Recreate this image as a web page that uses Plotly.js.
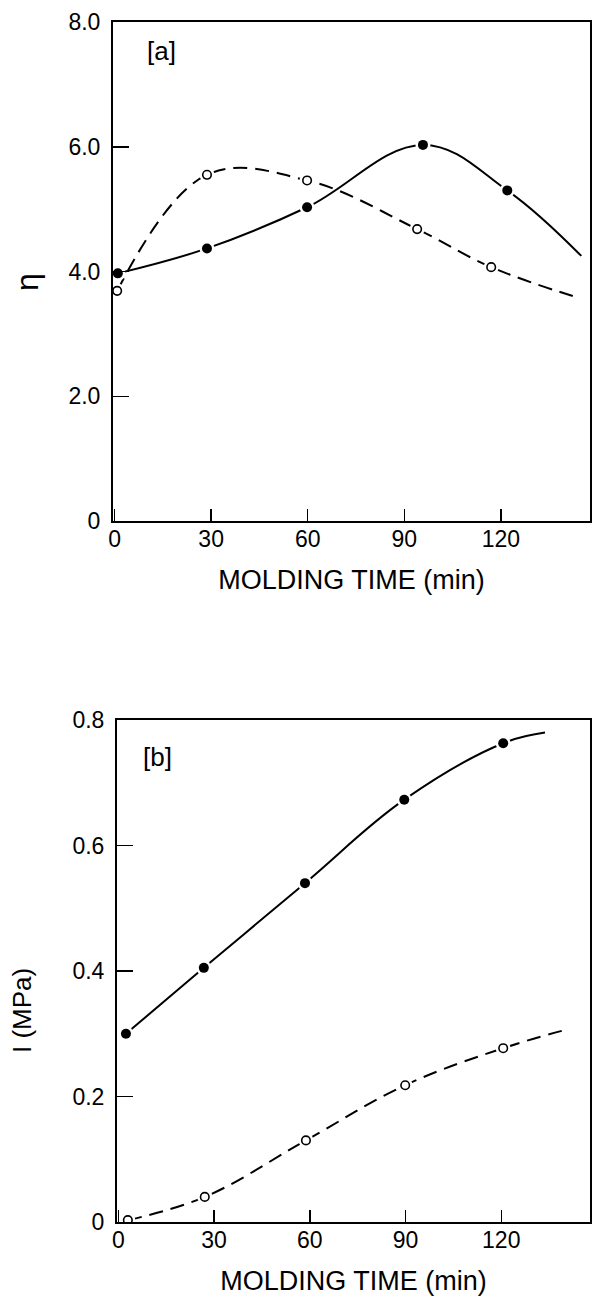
<!DOCTYPE html>
<html><head><meta charset="utf-8">
<script src="https://cdn.plot.ly/plotly-3.0.1.min.js"></script>
<style>html,body{margin:0;padding:0;background:#fff}</style>
</head><body><div id="chart" style="width:592px;height:1300px"></div>
<script>
// ---- data ----
const timeTicks = [0, 30, 60, 90, 120];
const etaTickVals = [0, 2, 4, 6, 8];
const etaTickText = ['0', '2.0', '4.0', '6.0', '8.0'];
const iTickVals = [0, 0.2, 0.4, 0.6, 0.8];
const iTickText = ['0', '0.2', '0.4', '0.6', '0.8'];

// panel [a] : eta vs molding time
const aFilledX = [1, 28.7, 59.8, 95.8, 122];
const aFilledY = [3.97, 4.37, 5.03, 6.03, 5.30];
const aFilledEnd = [145, 4.25];
const aOpenX = [0.8, 28.7, 59.8, 94, 117];
const aOpenY = [3.69, 5.55, 5.46, 4.68, 4.07];
const aOpenEnd = [144.6, 3.57];

// panel [b] : I (MPa) vs molding time
const bFilledX = [2.4, 26.8, 58.5, 89.6, 120.6];
const bFilledY = [0.30, 0.405, 0.54, 0.673, 0.763];
const bFilledEnd = [133.7, 0.78];
const bOpenX = [3, 27.1, 58.8, 89.9, 120.6];
const bOpenY = [0.003, 0.04, 0.13, 0.218, 0.277];
const bOpenEnd = [140, 0.306];

// ---- traces ----
function curve(xs, ys, end, dash, xa, ya) {
  return {x: xs.concat([end[0]]), y: ys.concat([end[1]]), xaxis: xa, yaxis: ya,
    mode: 'lines', line: {color: '#000', width: 2, shape: 'spline', smoothing: 1.1, dash: dash},
    hoverinfo: 'skip', showlegend: false};
}
function halo(xs, ys, xa, ya) {
  return {x: xs, y: ys, xaxis: xa, yaxis: ya, mode: 'markers',
    marker: {size: 15, color: '#fff'}, hoverinfo: 'skip', showlegend: false};
}
function marks(xs, ys, filled, xa, ya) {
  return {x: xs, y: ys, xaxis: xa, yaxis: ya, mode: 'markers',
    marker: filled ? {size: 10, color: '#000'} : {size: 8.5, color: '#fff', line: {color: '#000', width: 1.6}},
    showlegend: false};
}
const dashA = '14px,8px';
const traces = [
  curve(aFilledX, aFilledY, aFilledEnd, 'solid', 'x', 'y'),
  curve(aOpenX, aOpenY, aOpenEnd, dashA, 'x', 'y'),
  curve(bFilledX, bFilledY, bFilledEnd, 'solid', 'x2', 'y2'),
  curve(bOpenX, bOpenY, bOpenEnd, dashA, 'x2', 'y2'),
  halo(aFilledX, aFilledY, 'x', 'y'), halo(aOpenX, aOpenY, 'x', 'y'),
  halo(bFilledX, bFilledY, 'x2', 'y2'), halo(bOpenX, bOpenY, 'x2', 'y2'),
  marks(aFilledX, aFilledY, true, 'x', 'y'), marks(aOpenX, aOpenY, false, 'x', 'y'),
  marks(bFilledX, bFilledY, true, 'x2', 'y2'), marks(bOpenX, bOpenY, false, 'x2', 'y2')
];

const FONT = 'Liberation Sans, Arial, sans-serif';
const tickFont = {family: FONT, size: 23, color: '#000'};
const titleFont = {family: FONT, size: 27, color: '#000'};
function xAxis(domain, range, anchor) {
  return {domain: domain, range: range, anchor: anchor, tickvals: timeTicks,
    ticks: 'inside', ticklen: 12, tickwidth: 1.5, tickcolor: '#000',
    showline: true, linecolor: '#000', linewidth: 2, mirror: true,
    showgrid: false, zeroline: false, tickfont: tickFont, ticklabelstandoff: -4,
    title: {text: 'MOLDING TIME (min)', font: titleFont, standoff: 20}};
}
function yAxis(domain, range, anchor, vals, txt) {
  return {domain: domain, range: range, anchor: anchor, tickvals: vals, ticktext: txt,
    ticks: 'inside', ticklen: 16, tickwidth: 1.5, tickcolor: '#000',
    showline: true, linecolor: '#000', linewidth: 2, mirror: true,
    showgrid: false, zeroline: false, tickfont: tickFont, ticklabelstandoff: 6};
}
function note(text, px, py, size, angle) {
  return {text: text, xref: 'paper', yref: 'paper', x: px / 592, y: 1 - py / 1300,
    xanchor: 'center', yanchor: 'middle', showarrow: false, textangle: angle || 0,
    font: {family: FONT, size: size, color: '#000'}};
}
const layout = {
  width: 592, height: 1300, margin: {l: 0, r: 0, t: 0, b: 0},
  paper_bgcolor: '#fff', plot_bgcolor: '#fff', showlegend: false,
  xaxis: xAxis([113/592, 590/592], [-0.5, 147.7], 'y'),
  yaxis: yAxis([1 - 521/1300, 1 - 22/1300], [0, 8], 'x', etaTickVals, etaTickText),
  xaxis2: xAxis([117/592, 590/592], [-0.4, 147.8], 'y2'),
  yaxis2: yAxis([1 - 1222/1300, 1 - 720/1300], [0, 0.8], 'x2', iTickVals, iTickText),
  annotations: [
    note('η', 27, 282, 32, -90),
    note('I (MPa)', 22, 1011, 26, -90),
    note('[a]', 161, 51, 26),
    note('[b]', 157, 757, 26)
  ]
};
Plotly.newPlot('chart', traces, layout, {displayModeBar: false, staticPlot: true});
</script></body></html>
